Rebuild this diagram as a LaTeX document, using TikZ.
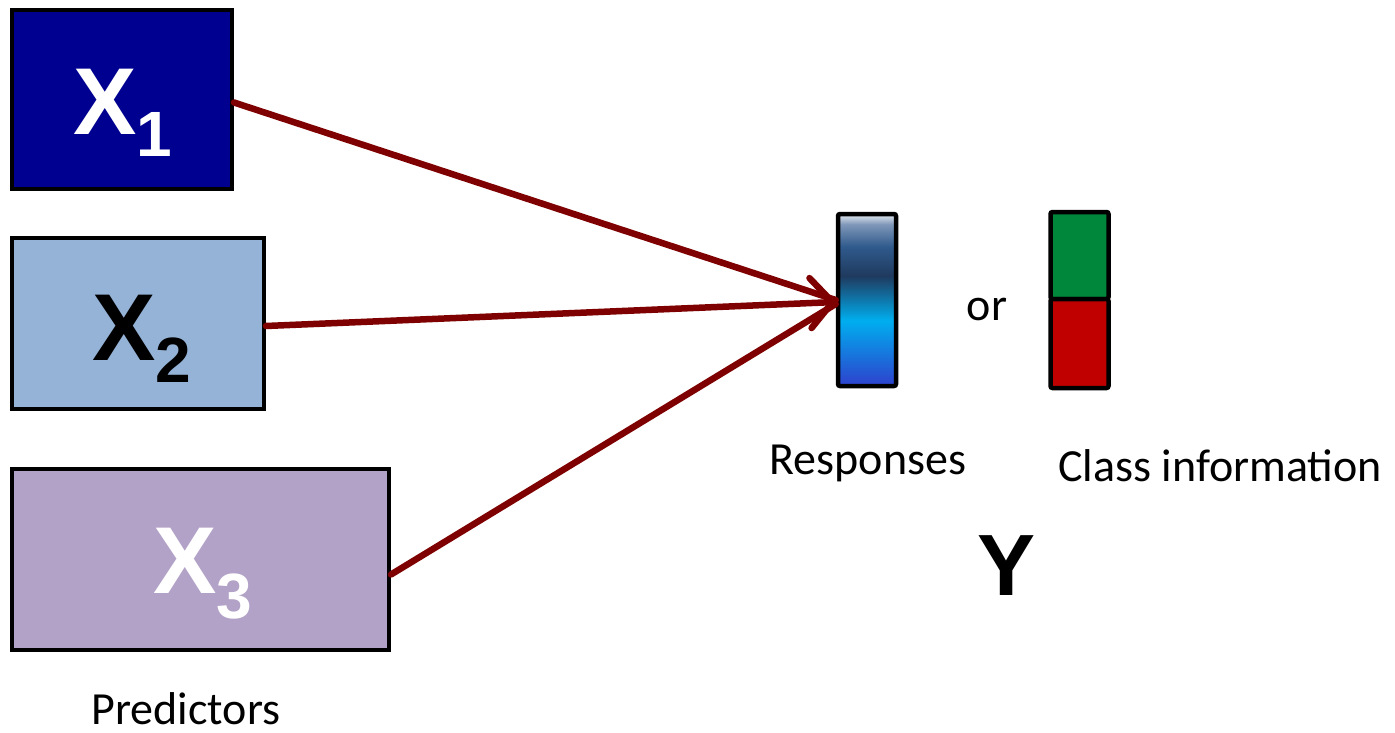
\documentclass[tikz,border=0pt]{standalone}
\usepackage{fontspec}
\setmainfont{Carlito}
\newfontfamily\arialfont{Liberation Sans}
\usetikzlibrary{arrows.meta}
\definecolor{navybox}{HTML}{000090}
\definecolor{bluebox}{HTML}{95B3D7}
\definecolor{lilacbox}{HTML}{B3A2C7}
\definecolor{clsgreen}{HTML}{00873C}
\definecolor{clsred}{HTML}{C00000}
\definecolor{arrowred}{HTML}{7F0000}
\definecolor{rbA}{HTML}{2E40CC}
\definecolor{rbB}{HTML}{00AEEF}
\definecolor{rbC}{HTML}{1F3A5E}
\definecolor{rbD}{HTML}{2F5A8C}
\definecolor{rbE}{HTML}{7F97B8}
\definecolor{rbF}{HTML}{E6ECF3}
\pgfdeclareverticalshading{respshade}{100bp}{color(0bp)=(rbA); color(25bp)=(rbA); color(44bp)=(rbB); color(57bp)=(rbC); color(65.5bp)=(rbD); color(72bp)=(rbE); color(75bp)=(rbF); color(100bp)=(rbF)}
\newcommand{\bigX}[3]{{\arialfont\bfseries\fontsize{95}{100}\selectfont\color{#3}X\raisebox{-#2pt}{\fontsize{64}{70}\selectfont #1}}}
\begin{document}
\begin{tikzpicture}[x=1pt,y=-1pt,
  predbox/.style={draw=black, line width=4pt, inner sep=0pt},
  barbox/.style={draw=black, line width=4.5pt, inner sep=0pt, rounded corners=2pt, minimum width=58pt, minimum height=172pt},
  conn/.style={draw=arrowred, line width=6.5pt, line cap=round},
  lbl/.style={inner sep=0pt, font=\fontsize{46}{50}\selectfont}]
\useasboundingbox (0,0) rectangle (1395,733);
% predictor boxes
\node[predbox, fill=navybox, minimum width=220pt, minimum height=179pt] (x1) at (122,99.5) {};
\node[predbox, fill=bluebox, minimum width=252pt, minimum height=171pt] (x2) at (138,323.5) {};
\node[predbox, fill=lilacbox, minimum width=377pt, minimum height=181pt] (x3) at (200.5,559.5) {};
\node[inner sep=0pt, anchor=base west] (x1t) at (73,135) {\bigX{1}{22}{white}};
\node[inner sep=0pt, anchor=base west] (x2t) at (92,360) {\bigX{2}{22}{black}};
\node[inner sep=0pt, anchor=base west] (x3t) at (153,593) {\bigX{3}{25}{white}};
% responses bar
\node[barbox, shading=respshade] (resp) at (867,300) {};
% class bar
\node[barbox, fill=clsgreen, minimum height=87pt] (clsg) at (1079.5,255.5) {};
\node[barbox, fill=clsred, minimum height=89pt] (clsr) at (1079.5,343.5) {};
% texts
\node[lbl, anchor=base] (ort) at (987,320) {or};
\node[lbl, anchor=base] (respt) at (868,474) {Responses};
\node[lbl, anchor=base] (clst) at (1220,481) {Class information};
\node[lbl, anchor=base] (predt) at (186,724) {Predictors};
\node[inner sep=0pt, anchor=base] (yt) at (1007,595) {\arialfont\bfseries\fontsize{87}{90}\selectfont Y};
% connectors
\draw[conn] ([yshift=-3pt]x1.east) -- ([yshift=0pt]resp.west);
\draw[conn] ([yshift=-15pt]x3.east) -- ([yshift=-4pt]resp.west);
\draw[conn, -{Straight Barb[length=22pt, width=50pt, round]}] ([yshift=-2.5pt]x2.east) -- ([yshift=-2pt]resp.west);
\end{tikzpicture}
\end{document}
